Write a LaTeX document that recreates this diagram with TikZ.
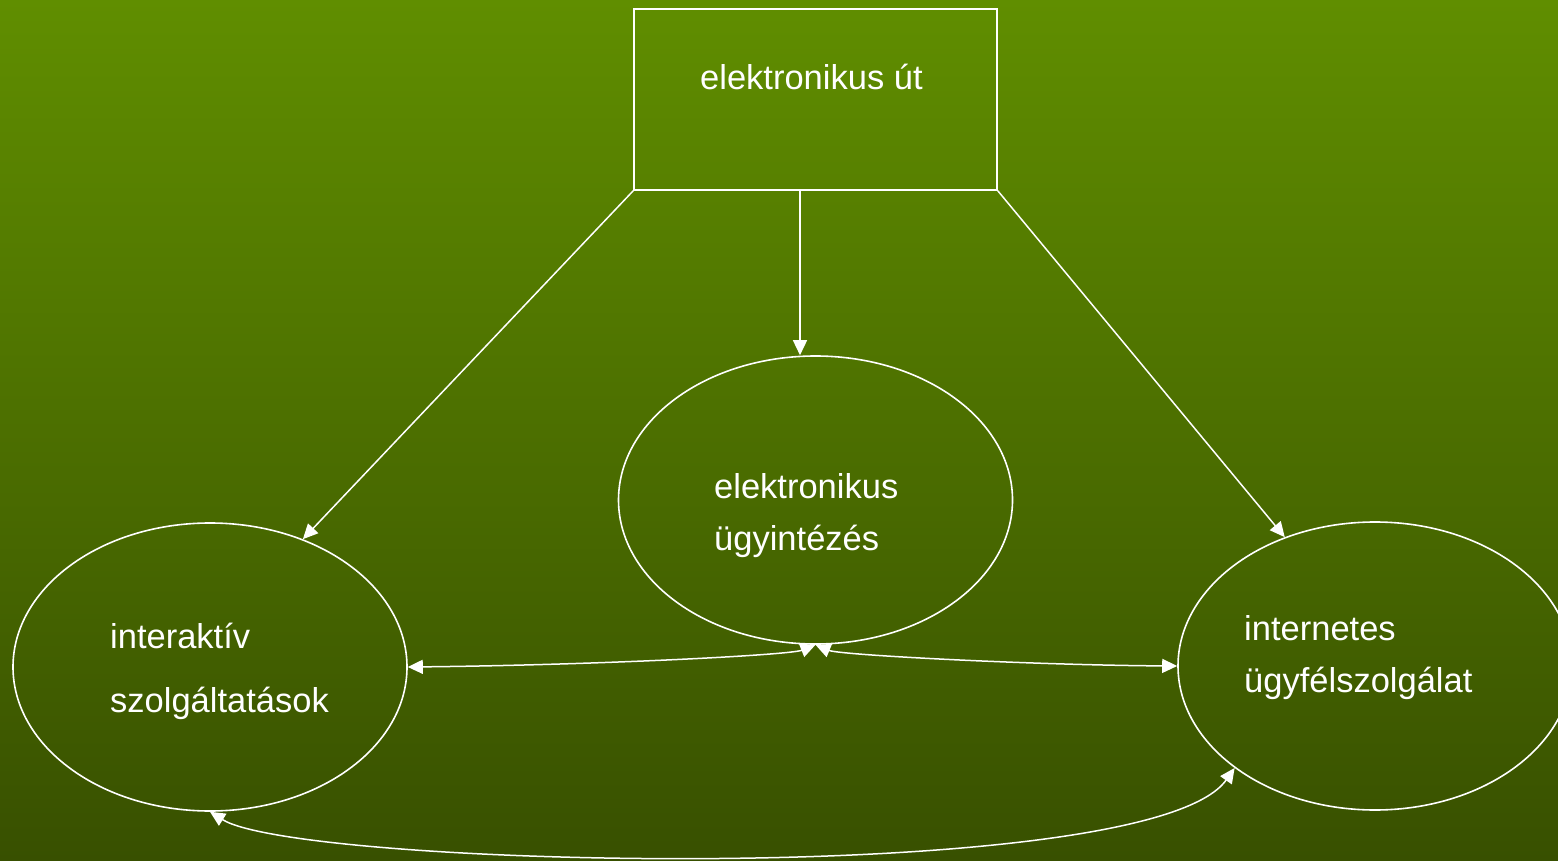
\documentclass[tikz,border=0pt]{standalone}
\usepackage{fontspec}
\setmainfont{Liberation Sans}
\usetikzlibrary{shapes.geometric,arrows.meta}
\definecolor{bgtop}{RGB}{96,142,0}
\definecolor{bgbot}{RGB}{56,80,0}
\tikzset{
  oval/.style={draw=white,line width=1.6pt,ellipse,minimum width=394pt,minimum height=288pt,inner sep=0pt},
  box/.style={draw=white,line width=1.6pt,rectangle,minimum width=363pt,minimum height=181pt,inner sep=0pt},
  lbl/.style={text=white,font=\fontsize{34.5}{34.5}\selectfont,anchor=base west,inner sep=0pt},
  arr/.style={draw=white,line width=1.5pt,-{Triangle[length=15pt,width=14pt]}},
  darr/.style={draw=white,line width=1.5pt,{Triangle[length=15pt,width=14pt]}-{Triangle[length=15pt,width=14pt]}}
}
\begin{document}
\begin{tikzpicture}[x=1pt,y=-1pt]
\shade[top color=bgtop,bottom color=bgbot] (0,0) rectangle (1558,861);
\useasboundingbox (0,0) rectangle (1558,861);
\node[box] (box) at (815.5,99.5) {};
\node[oval] (mid) at (815.5,500) {};
\node[oval] (left) at (210,667) {};
\node[oval] (right) at (1375,666) {};
\node[lbl] (t1) at (700,90) {elektronikus út};
\node[lbl] (t2) at (714,498) {elektronikus};
\node[lbl] (t3) at (714,550) {ügyintézés};
\node[lbl] (t4) at (110,648) {interaktív};
\node[lbl] (t5) at (110,712) {szolgáltatások};
\node[lbl] (t6) at (1244,640) {internetes};
\node[lbl] (t7) at (1244,692) {ügyfélszolgálat};
\draw[arr] (box.south west) -- (left.54.7);
\draw[arr] ([xshift=-15.5pt]box.south) -- ([xshift=-15.5pt]mid.north);
\draw[arr] (box.south east) -- (right.125.5);
\draw[darr] (left.east) .. controls (600,665) and (790,655) .. (mid.south);
\draw[darr] (mid.south) .. controls (840,655) and (1030,665) .. (right.west);
\draw[darr] (left.south) .. controls (300,868) and (1150,888) .. (right.216.8);
\end{tikzpicture}
\end{document}
